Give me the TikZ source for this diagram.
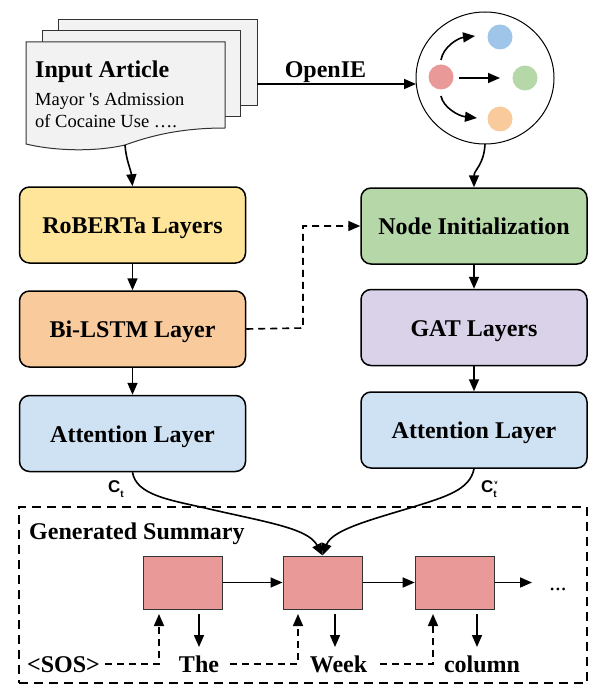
\documentclass[tikz,border=0pt]{standalone}
\usepackage{fontspec}
\setmainfont{Liberation Serif}
\setsansfont{Liberation Sans}
\usetikzlibrary{arrows.meta,shapes.geometric}
\definecolor{docfill}{HTML}{F2F2F2}
\definecolor{cyellow}{HTML}{FFE599}
\definecolor{corange}{HTML}{F9CB9C}
\definecolor{cblue}{HTML}{CFE2F3}
\definecolor{cgreen}{HTML}{B6D7A8}
\definecolor{cpurple}{HTML}{D9D2E9}
\definecolor{cred}{HTML}{EA9999}
\definecolor{cskyb}{HTML}{9FC5E8}
\definecolor{edgegray}{HTML}{333333}
\tikzset{
  x=1pt,y=-1pt,
  layer/.style={draw=black,line width=1.5pt,rounded corners=10pt,minimum width=226pt,minimum height=76pt,font=\bfseries\fontsize{24}{26}\selectfont,inner sep=0pt,text height=17pt,text depth=0pt},
  page/.style={draw=edgegray,line width=1pt,fill=docfill},
  redbox/.style={draw=edgegray,line width=1pt,fill=cred,minimum width=79pt,minimum height=53pt,inner sep=0pt},
  arr/.style={line width=1.6pt,-{Triangle[length=12pt,width=10pt]}},
  darr/.style={arr,dash pattern=on 7pt off 5pt},
  lab/.style={font=\bfseries\fontsize{24}{26}\selectfont,inner sep=0pt,anchor=base},
  body/.style={anchor=base west,inner sep=0pt,font=\fontsize{18.5}{22}\selectfont},
  sym/.style={font=\sffamily\bfseries\fontsize{17}{18}\selectfont,inner sep=0pt,anchor=base west},
  dot/.style={circle,minimum size=25pt,inner sep=0pt},
}
\begin{document}
\begin{tikzpicture}
\useasboundingbox (0,0) rectangle (598,687);
% stacked pages
\draw[page] (58,20) rectangle (257,106);
\draw[page] (42,31) rectangle (240,117);
\draw[page] (26,42) -- (225,42) -- (225,128) .. controls (180,128) and (150,136) .. (125,145) .. controls (95,152) and (55,151) .. (26,144) -- cycle;
\node[lab,anchor=base west] (title) at (35,78) {Input Article};
\node[body] (l1) at (35,106) {Mayor \textquotesingle s Admission};
\node[body] (l2) at (35,128) {of Cocaine Use ….};
\coordinate (docout) at (125,145);
\coordinate (docright) at (257,84);
% graph circle
\node[ellipse,draw=black,line width=1pt,minimum width=138pt,minimum height=132pt,inner sep=0pt] (graph) at (485,78) {};
\node[dot,fill=cred] (n0) at (441,77) {};
\node[dot,fill=cskyb] (n1) at (500,37) {};
\node[dot,fill=cgreen] (n2) at (525,78) {};
\node[dot,fill=corange] (n3) at (500,119) {};
\coordinate (a1s) at (441,60); \coordinate (a1e) at (475,36);
\coordinate (a2s) at (459,78); \coordinate (a2e) at (500,78);
\coordinate (a3s) at (441,96); \coordinate (a3e) at (477,118);
\draw[arr] (a1s) .. controls (443,47) and (458,38) .. (a1e);
\draw[arr] (a2s) -- (a2e);
\draw[arr] (a3s) .. controls (443,107) and (458,116) .. (a3e);
% layers
\node[layer,fill=cyellow] (rob) at (132.5,225) {RoBERTa Layers};
\node[layer,fill=corange] (lstm) at (132.5,329) {Bi-LSTM Layer};
\node[layer,fill=cblue] (attl) at (132.5,433.5) {Attention Layer};
\node[layer,fill=cgreen] (init) at (474,226) {Node Initialization};
\node[layer,fill=cpurple] (gat) at (474,327.5) {GAT Layers};
\node[layer,fill=cblue] (attr) at (474,430) {Attention Layer};
% connectors top
\draw[arr] (docout) .. controls (126,160) and (131,170) .. (rob.north);
\draw[arr] (docright) -- (416,84);
\node[lab] (oie) at (325.5,78) {OpenIE};
\draw[arr] (485,144) .. controls (484,165) and (474,170) .. (init.north);
\draw[arr] (rob) -- (lstm);
\draw[arr] (lstm) -- (attl);
\draw[arr] (init) -- (gat);
\draw[arr] (gat) -- (attr);
\draw[darr] (lstm.east) -- (303,328) -- (303,226) -- (init.west);
% summary box
\node[draw=black,line width=1.5pt,dash pattern=on 9pt off 6pt,minimum width=568pt,minimum height=176pt,inner sep=0pt] (sum) at (303,595) {};
\node[lab,anchor=base west] (gen) at (29,539) {Generated Summary};
\node[redbox] (r1) at (182.5,582.5) {};
\node[redbox] (r2) at (322.5,582.5) {};
\node[redbox] (r3) at (454.7,582.5) {};
\node[lab] (sos) at (63.5,672) {<SOS>};
\node[lab] (the) at (199,672) {The};
\node[lab] (week) at (338.5,672) {Week};
\node[lab] (col) at (482,672) {column};
\node[lab,font=\fontsize{23}{26}\selectfont] (dots) at (558,590) {...};
% merging curves
\draw[arr] (attl.south) .. controls (136,495) and (170,500) .. (205,508) .. controls (265,522) and (308,528) .. (r2.north);
\draw[arr] (attr.south) .. controls (470,490) and (445,497) .. (413,507) .. controls (370,520) and (332,530) .. (r2.north);
\node[sym] (ct) at (108,492) {C\raisebox{-5pt}{\fontsize{10}{10}\selectfont t}};
\node[sym] (cv) at (481,492) {C\rlap{\raisebox{-5pt}{\fontsize{10}{10}\selectfont t}}\raisebox{8pt}{\hspace{1pt}\fontsize{6}{6}\selectfont v}};
% sequence
\draw[arr] (r1) -- (r2);
\draw[arr] (r2) -- (r3);
\coordinate (rn) at (532,582.5);
\draw[arr] (r3) -- (rn);
\coordinate (d1) at (199,614); \coordinate (d1e) at (199,647);
\coordinate (d2) at (335,614); \coordinate (d2e) at (335,647);
\coordinate (d3) at (477,614); \coordinate (d3e) at (477,647);
\draw[arr] (d1) -- (d1e);
\draw[arr] (d2) -- (d2e);
\draw[arr] (d3) -- (d3e);
\coordinate (u1) at (159,614); \coordinate (u2) at (298,614); \coordinate (u3) at (433,614);
\draw[darr] (105,664) -- (159,664) -- (u1);
\draw[darr] (230,664) -- (298,664) -- (u2);
\draw[darr] (380,664) -- (433,664) -- (u3);
\end{tikzpicture}
\end{document}
